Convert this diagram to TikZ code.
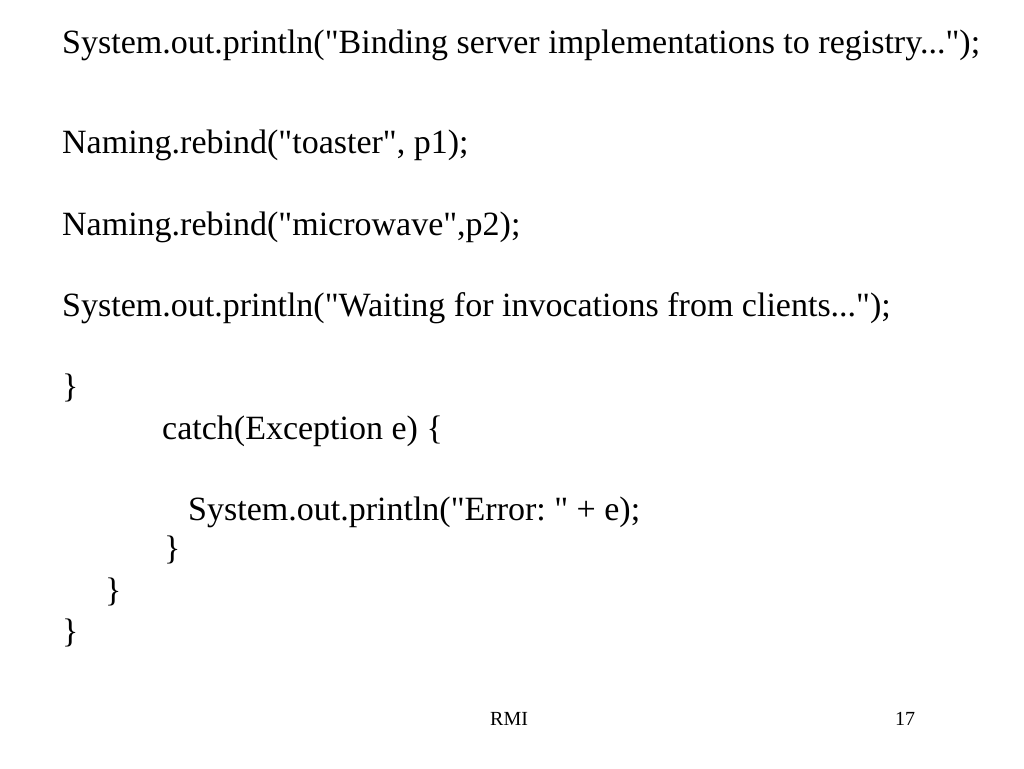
\documentclass[tikz,border=0pt]{standalone}
\usepackage{fontspec}
\setmainfont{Liberation Serif}
\newfontfamily\codefont{Liberation Serif}
\frenchspacing
\begin{document}
\begin{tikzpicture}[x=1pt,y=-1pt,
  code/.style={anchor=base west,inner sep=0pt,font=\codefont\frenchspacing\fontsize{34}{40}\selectfont},
  foot/.style={anchor=base west,inner sep=0pt,font=\codefont\fontsize{20}{24}\selectfont}]
\fill[white] (0,0) rectangle (1024,768);
\useasboundingbox (0,0) rectangle (1024,768);
\node[code] (l1) at (62,53) {System.out.println("Binding server implementations to registry...");};
\node[code] (l2) at (62,153) {Naming.rebind("toaster", p1);};
\node[code] (l3) at (62,235) {Naming.rebind("microwave",p2);};
\node[code] (l4) at (62,316) {System.out.println("Waiting for invocations from clients...");};
\node[code] (l5) at (62,397) {\}};
\node[code] (l6) at (162,439) {catch(Exception e) \{};
\node[code] (l7) at (188,520) {System.out.println("Error: " + e);};
\node[code] (l8) at (164,559) {\}};
\node[code] (l9) at (105,601) {\}};
\node[code] (l10) at (62,642) {\}};
\node[foot] (rmi) at (490,725) {RMI};
\node[foot] (pg) at (895,725) {17};
\end{tikzpicture}
\end{document}
